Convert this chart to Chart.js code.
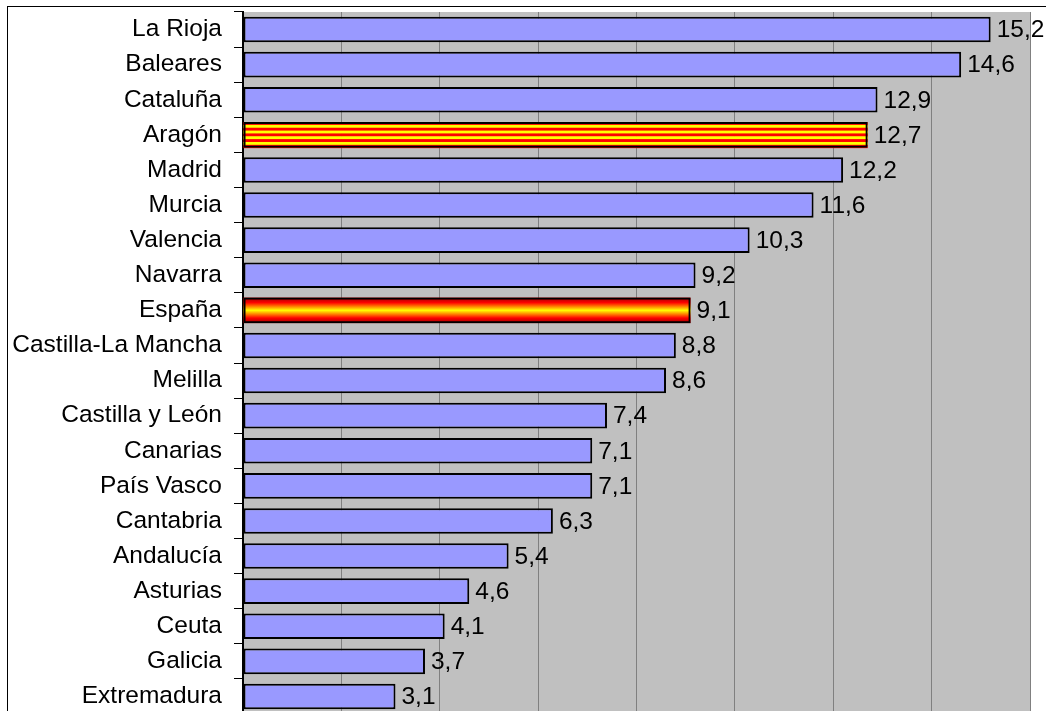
<!DOCTYPE html>
<html>
<head>
<meta charset="utf-8">
<script src="https://cdn.jsdelivr.net/npm/chart.js@4.4.1/dist/chart.umd.min.js"></script>
<style>
  html, body { margin: 0; padding: 0; background: #fff; overflow: hidden; width: 1046px; height: 711px; }
  #frame { position: absolute; left: 7px; top: 6px; width: 1100px; height: 800px; border-top: 1px solid #000; border-left: 1px solid #000; }
  #wrap { position: absolute; left: 0; top: 0; width: 1046px; height: 716px; }
</style>
</head>
<body>
<div id="frame"></div>
<div id="wrap"><canvas id="c" width="1046" height="716"></canvas></div>
<script>
const categories = ['La Rioja','Baleares','Cataluña','Aragón','Madrid','Murcia','Valencia','Navarra','España','Castilla-La Mancha','Melilla','Castilla y León','Canarias','País Vasco','Cantabria','Andalucía','Asturias','Ceuta','Galicia','Extremadura'];
const values = [15.2,14.6,12.9,12.7,12.2,11.6,10.3,9.2,9.1,8.8,8.6,7.4,7.1,7.1,6.3,5.4,4.6,4.1,3.7,3.1];
const stripedCategory = 'Aragón';
const gradientCategory = 'España';
const axisMin = 0, axisMax = 16, axisStep = 2;

const FONT = 'Liberation Sans, Arial, sans-serif';
const barColor = '#9999FF';

const plotBg = {
  id: 'plotBg',
  beforeDraw(chart) {
    const {ctx, chartArea: a} = chart;
    ctx.save();
    ctx.fillStyle = '#C0C0C0';
    ctx.fillRect(a.left, a.top, a.right - a.left, a.bottom - a.top);
    ctx.restore();
  }
};

const specialFills = {
  id: 'specialFills',
  beforeDatasetsDraw(chart) {
    const ctx = chart.ctx;
    const meta = chart.getDatasetMeta(0);
    meta.data.forEach((el, i) => {
      const cat = categories[i];
      if (cat !== stripedCategory && cat !== gradientCategory) return;
      const p = el.getProps(['x','y','base','height'], true);
      const x0 = Math.min(p.base, p.x), x1 = Math.max(p.base, p.x);
      const y0 = p.y - p.height / 2, y1 = p.y + p.height / 2;
      ctx.save();
      if (cat === stripedCategory) {
        const n = 9;
        const sh = (y1 - y0) / n;
        for (let k = 0; k < n; k++) {
          ctx.fillStyle = (k % 2 === 0) ? '#FF0000' : '#FFFF00';
          ctx.fillRect(x0, y0 + k * sh, x1 - x0, sh + 0.5);
        }
      } else {
        const g = ctx.createLinearGradient(0, y0, 0, y1);
        g.addColorStop(0, '#990000');
        g.addColorStop(0.2, '#FF0000');
        g.addColorStop(0.5, '#FFFF00');
        g.addColorStop(0.8, '#FF0000');
        g.addColorStop(1, '#990000');
        ctx.fillStyle = g;
        ctx.fillRect(x0, y0, x1 - x0, y1 - y0);
      }
      ctx.restore();
    });
  }
};

const valueLabels = {
  id: 'valueLabels',
  afterDatasetsDraw(chart) {
    const ctx = chart.ctx;
    const meta = chart.getDatasetMeta(0);
    ctx.save();
    ctx.font = '24.5px ' + FONT;
    ctx.fillStyle = '#000';
    ctx.textAlign = 'left';
    ctx.textBaseline = 'middle';
    meta.data.forEach((el, i) => {
      const p = el.getProps(['x','y'], true);
      ctx.fillText(values[i].toFixed(1).replace('.', ','), p.x + 6, p.y + 1);
    });
    ctx.restore();
  }
};

new Chart(document.getElementById('c'), {
  type: 'bar',
  data: {
    labels: categories,
    datasets: [{
      data: values,
      backgroundColor: categories.map(c => (c === stripedCategory || c === gradientCategory) ? 'rgba(0,0,0,0)' : barColor),
      borderColor: '#000',
      borderWidth: 2,
      borderSkipped: false,
      categoryPercentage: 1,
      barPercentage: 0.73
    }]
  },
  options: {
    indexAxis: 'y',
    responsive: false,
    animation: false,
    layout: { padding: { left: 0, right: 16, top: 12, bottom: 2 } },
    plugins: { legend: { display: false }, tooltip: { enabled: false } },
    scales: {
      x: {
        min: axisMin, max: axisMax,
        ticks: { display: false, stepSize: axisStep },
        grid: { color: '#808080', lineWidth: 1, drawTicks: false },
        border: { display: false },
        afterFit(scale) { scale.height = 0; scale.paddingLeft = 0; scale.paddingRight = 0; scale.paddingTop = 0; scale.paddingBottom = 0; }
      },
      y: {
        ticks: { color: '#000', font: { family: FONT, size: 24.5 }, padding: 12, autoSkip: false },
        grid: { drawOnChartArea: false, drawTicks: true, tickLength: 9, color: '#000', lineWidth: 1 },
        border: { display: true, color: '#000', width: 2 },
        afterFit(scale) { scale.width = 243; scale.paddingTop = 0; scale.paddingBottom = 0; }
      }
    }
  },
  plugins: [plotBg, specialFills, valueLabels]
});
</script>
</body>
</html>
